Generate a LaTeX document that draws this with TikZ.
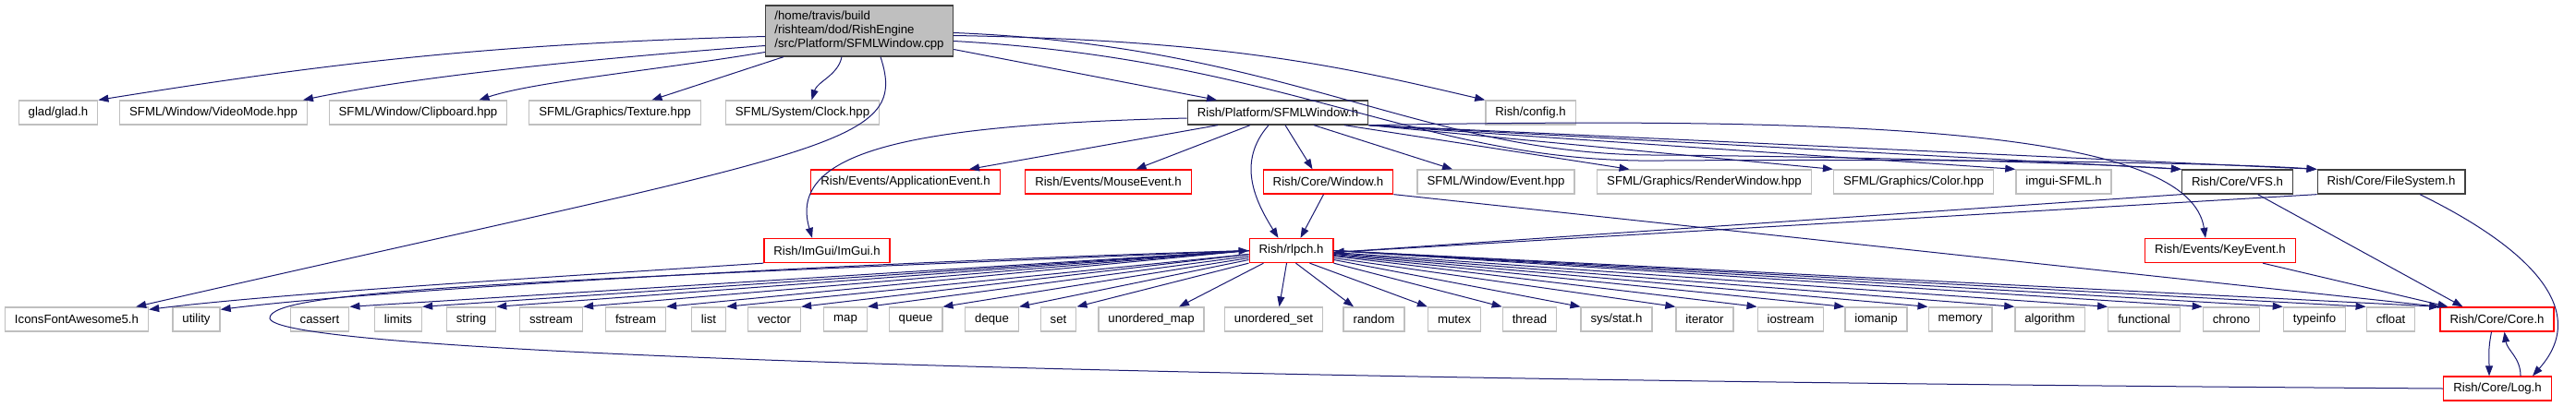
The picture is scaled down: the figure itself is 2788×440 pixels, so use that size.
\documentclass[tikz,border=0pt]{standalone}
\usepackage{fontspec}
\setmainfont{Liberation Sans}
\usepackage{xcolor}
\definecolor{dxblue}{RGB}{25,25,112}
\definecolor{dxgray}{RGB}{191,191,191}
\definecolor{dxred}{RGB}{255,0,0}
\definecolor{dxdark}{RGB}{64,64,64}
\usetikzlibrary{arrows.meta}

\begin{document}
\begin{tikzpicture}[x=1pt, y=-1pt,
  gbox/.style={rectangle, draw=dxgray, line width=1.3pt, fill=white,
               minimum height=26pt, inner xsep=10.5pt, inner ysep=0pt,
               font=\fontsize{13.2}{15}\selectfont},
  rbox/.style={gbox, draw=dxred},
  kbox/.style={gbox, draw=dxdark},
  cbox/.style={kbox, fill=dxgray, minimum height=55pt, align=left, inner xsep=10pt},
  iarr/.style={-{Triangle[length=11pt, width=8pt]}, draw=dxblue, line width=1pt}
]
\useasboundingbox (0,0) rectangle (2788,440);

% Source file
\node[cbox] (cpp) at (930,33.5) {/home/travis/build\\/rishteam/dod/RishEngine\\/src/Platform/SFMLWindow.cpp};

% First level
\node[gbox] (glad)  at (63,122)     {glad/glad.h};
\node[gbox] (vmode) at (231,122)    {SFML/Window/VideoMode.hpp};
\node[gbox] (clip)  at (452.5,122)  {SFML/Window/Clipboard.hpp};
\node[gbox] (tex)   at (665.5,122)  {SFML/Graphics/Texture.hpp};
\node[gbox] (clk)   at (868.5,122)  {SFML/System/Clock.hpp};
\node[kbox] (swh)   at (1383,122)   {Rish/Platform/SFMLWindow.h};
\node[gbox] (cfg)   at (1656.5,122) {Rish/config.h};

% Second level
\node[rbox] (aev) at (980,197)    {Rish/Events/ApplicationEvent.h};
\node[rbox] (mev) at (1199.5,197) {Rish/Events/MouseEvent.h};
\node[rbox] (win) at (1437.5,197) {Rish/Core/Window.h};
\node[gbox] (evh) at (1619,197)   {SFML/Window/Event.hpp};
\node[gbox] (rwn) at (1844.5,197) {SFML/Graphics/RenderWindow.hpp};
\node[gbox] (col) at (2071,197)   {SFML/Graphics/Color.hpp};
\node[gbox] (ims) at (2233.5,197) {imgui-SFML.h};
\node[kbox] (vfs) at (2421.5,197) {Rish/Core/VFS.h};
\node[kbox] (fsy) at (2588,197)   {Rish/Core/FileSystem.h};

% Third level
\node[rbox] (img) at (895,271.5)    {Rish/ImGui/ImGui.h};
\node[rbox] (rl)  at (1397.5,271.5) {Rish/rlpch.h};
\node[rbox] (kev) at (2403,271.5)   {Rish/Events/KeyEvent.h};

% Headers included by the precompiled header
\node[gbox] (ico)  at (83,346)     {IconsFontAwesome5.h};
\node[gbox] (uti)  at (212.5,346)  {utility};
\node[gbox] (cas)  at (346,346)    {cassert};
\node[gbox] (lim)  at (431,346)    {limits};
\node[gbox] (str)  at (510,346)    {string};
\node[gbox] (sst)  at (596.5,346)  {sstream};
\node[gbox] (fst)  at (688,346)    {fstream};
\node[gbox] (lst)  at (767,346)    {list};
\node[gbox] (vec)  at (838,346)    {vector};
\node[gbox] (mp)   at (915,346)    {map};
\node[gbox] (que)  at (991,346)    {queue};
\node[gbox] (deq)  at (1073.5,346) {deque};
\node[gbox] (st)   at (1145.5,346) {set};
\node[gbox] (umap) at (1246,346)   {unordered\_map};
\node[gbox] (uset) at (1378.5,346) {unordered\_set};
\node[gbox] (rnd)  at (1487,346)   {random};
\node[gbox] (mtx)  at (1574,346)   {mutex};
\node[gbox] (thr)  at (1655.5,346) {thread};
\node[gbox] (sys)  at (1749.5,346) {sys/stat.h};
\node[gbox] (itr)  at (1845,346)   {iterator};
\node[gbox] (ios)  at (1938,346)   {iostream};
\node[gbox] (iom)  at (2030.5,346) {iomanip};
\node[gbox] (mem)  at (2121.5,346) {memory};
\node[gbox] (alg)  at (2218.5,346) {algorithm};
\node[gbox] (fun)  at (2320.5,346) {functional};
\node[gbox] (chr)  at (2415,346)   {chrono};
\node[gbox] (tif)  at (2505,346)   {typeinfo};
\node[gbox] (cfl)  at (2587.5,346) {cfloat};
\node[rbox] (core) at (2702.5,346) {Rish/Core/Core.h};
\node[rbox] (lg)   at (2703,421)   {Rish/Core/Log.h};

% Source file includes
\draw[iarr] ([yshift=-6pt]cpp.west) .. controls +(-300,8) and +(250,-40) .. (glad.north east);
\draw[iarr] ([yshift=-16pt]cpp.west) .. controls +(-200,15) and +(120,-25) .. ([xshift=-5pt]vmode.north east);
\draw[iarr] ([yshift=-23pt]cpp.west) .. controls +(-120,20) and +(60,-20) .. ([xshift=-31pt]clip.north east);
\draw[iarr] ([xshift=-82pt]cpp.south) -- ([xshift=40pt]tex.north);
\draw[iarr] ([xshift=-19pt]cpp.south) .. controls +(-4,20) and +(6,-20) .. ([xshift=10pt]clk.north);
\draw[iarr] ([xshift=23pt]cpp.south) .. controls (985,160) and (900,160) .. ([xshift=-14pt]ico.north east);
\draw[iarr] ([yshift=-20pt]cpp.east) -- ([xshift=-66pt]swh.north);
\draw[iarr] ([yshift=-5pt]cpp.east) .. controls +(300,5) and +(-150,-35) .. (cfg.north west);
\draw[iarr] ([yshift=-2pt]cpp.east) .. controls (1400,50) and (1540,170) .. (1800,168)
                                    .. controls (2000,170) and (2250,176) .. (vfs.north west);
\draw[iarr] ([yshift=-11pt]cpp.east) .. controls (1400,65) and (1540,178) .. (1800,174)
                                     .. controls (2100,172) and (2400,176) .. (fsy.north west);

% SFMLWindow.h includes
\draw[iarr] ([yshift=-6pt]swh.west) .. controls (1000,135) and (850,160) .. ([xshift=-16pt]img.north);
\draw[iarr] ([xshift=-65pt]swh.south) -- ([xshift=69pt]aev.north);
\draw[iarr] ([xshift=-30pt]swh.south) -- ([xshift=30pt]mev.north);
\draw[iarr] ([xshift=-10pt]swh.south) .. controls +(-35,40) and +(-25,-40) .. ([xshift=-14pt]rl.north);
\draw[iarr] ([xshift=8pt]swh.south) -- ([xshift=-17pt]win.north);
\draw[iarr] ([xshift=39pt]swh.south) -- ([xshift=-47pt]evh.north);
\draw[iarr] ([xshift=72pt]swh.south) -- ([xshift=-81pt]rwn.north);
\draw[iarr] (swh.south east) -- (col.north west);
\draw[iarr] (swh.south east) -- (ims.north west);
\draw[iarr] (swh.south east) -- (vfs.north west);
\draw[iarr] (swh.south east) -- (fsy.north west);
\draw[iarr] (swh.south east) .. controls (2050,125) and (2370,145) .. ([xshift=-16pt]kev.north);

% Core headers
\draw[iarr] ([xshift=-5pt]win.south) -- ([xshift=10pt]rl.north);
\draw[iarr] (win.south east) -- (core.north west);
\draw[iarr] (vfs.south west) -- ([yshift=-2pt]rl.east);
\draw[iarr] (fsy.south west) -- ([yshift=-2pt]rl.east);
\draw[iarr] ([xshift=22pt]vfs.south) -- ([xshift=-37pt]core.north);
\draw[iarr] ([xshift=31pt]fsy.south) .. controls (2720,260) and (2810,330) .. ([xshift=38pt]lg.north);
\draw[iarr] ([xshift=46pt]kev.south) -- ([xshift=-53pt]core.north);
\draw[iarr] ([xshift=-6pt]core.south) .. controls +(-4,20) and +(0,-20) .. ([xshift=-9pt]lg.north);
\draw[iarr] ([xshift=25pt]lg.north) .. controls +(0,-20) and +(3,20) .. ([xshift=8pt]core.south);
\draw[iarr] (lg.west) .. controls (1300,412) and (300,385) .. (292,345)
                      .. controls (290,315) and (550,305) .. (rl.west);
\draw[iarr] (img.south west) .. controls (600,300) and (300,318) .. ([yshift=-3pt]ico.north east);

% Precompiled header includes
\draw[iarr] (rl.west) .. controls (900,285) and (400,315) .. ([yshift=-3pt]uti.north east);
\draw[iarr] (rl.west) -- (cas.north east);
\draw[iarr] (rl.west) -- (lim.north east);
\draw[iarr] (rl.west) -- (str.north east);
\draw[iarr] (rl.west) -- (sst.north east);
\draw[iarr] (rl.west) -- (fst.north east);
\draw[iarr] ([yshift=-4pt]rl.west) -- (lst.north east);
\draw[iarr] ([yshift=-4pt]rl.west) -- (vec.north east);
\draw[iarr] ([yshift=-6pt]rl.west) -- (mp.north east);
\draw[iarr] ([yshift=-8pt]rl.west) -- (que.north east);
\draw[iarr] ([yshift=-10pt]rl.west) -- (deq.north east);
\draw[iarr] (rl.south west) -- (st.north east);
\draw[iarr] ([xshift=-30pt]rl.south) -- ([xshift=30pt]umap.north);
\draw[iarr] ([xshift=-5pt]rl.south) -- ([xshift=6pt]uset.north);
\draw[iarr] ([xshift=5pt]rl.south) -- ([xshift=-22pt]rnd.north);
\draw[iarr] ([xshift=20pt]rl.south) -- (mtx.north west);
\draw[iarr] (rl.south east) -- (thr.north west);
\draw[iarr] ([yshift=-10pt]rl.east) -- (sys.north west);
\draw[iarr] ([yshift=-8pt]rl.east) -- (itr.north west);
\draw[iarr] ([yshift=-6pt]rl.east) -- (ios.north west);
\draw[iarr] ([yshift=-5pt]rl.east) -- (iom.north west);
\draw[iarr] ([yshift=-4pt]rl.east) -- (mem.north west);
\draw[iarr] ([yshift=-3pt]rl.east) -- (alg.north west);
\draw[iarr] ([yshift=-2pt]rl.east) -- (fun.north west);
\draw[iarr] (rl.east) -- (chr.north west);
\draw[iarr] (rl.east) -- (tif.north west);
\draw[iarr] (rl.east) -- (cfl.north west);
\draw[iarr] (rl.east) -- (core.north west);
\end{tikzpicture}
\end{document}
